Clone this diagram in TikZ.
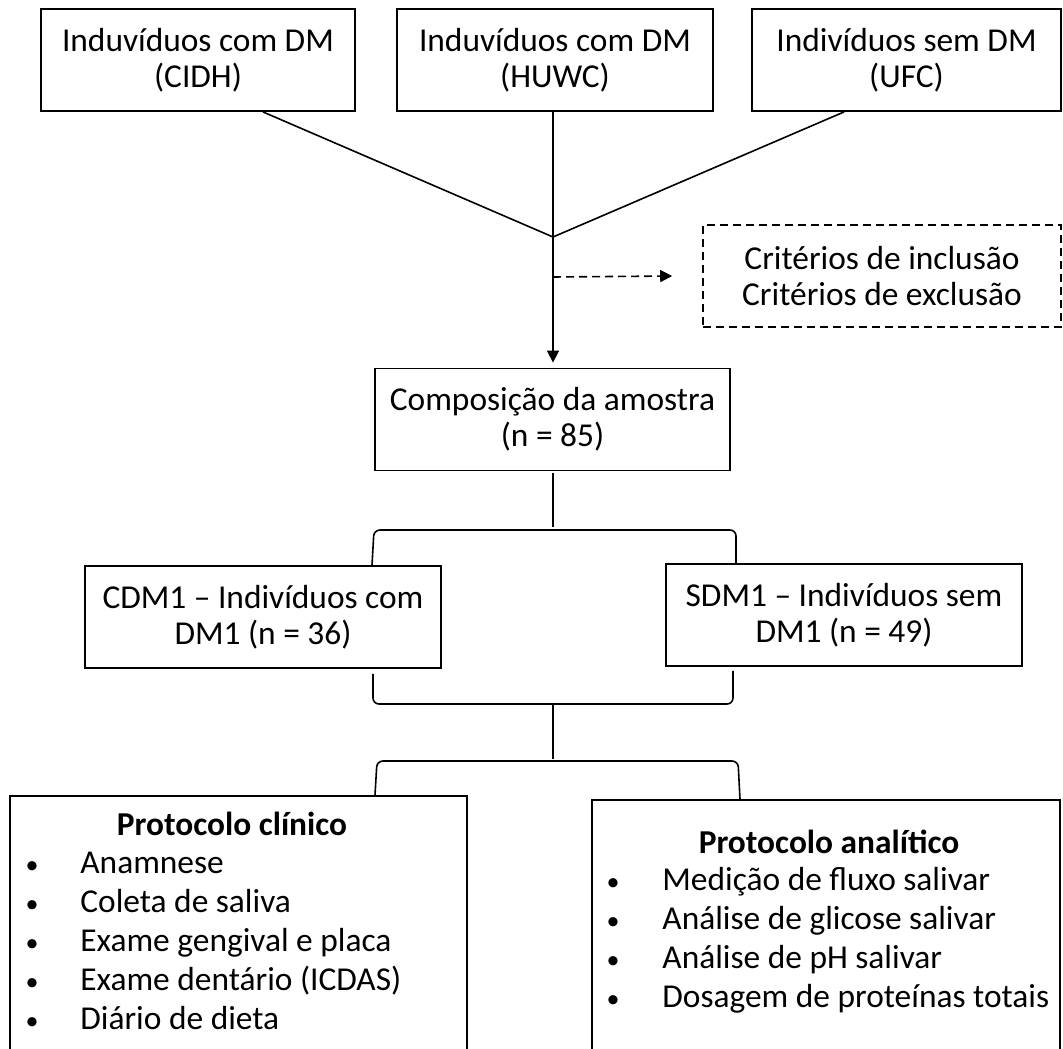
\documentclass[tikz,border=0pt]{standalone}
\usepackage{fontspec}
\setmainfont{Carlito}
\usetikzlibrary{arrows.meta,positioning}

\begin{document}
\begin{tikzpicture}[
    x=0.5pt,y=-0.5pt,
    every node/.style={font=\fontsize{16.7}{18}\selectfont},
    box/.style={draw,line width=0.9pt,inner sep=0pt,align=center,
                minimum height=51pt},
    dbox/.style={box,line width=0.8pt,dash pattern=on 4pt off 2.5pt},
    lin/.style={line width=0.8pt},
    arr/.style={-{Triangle[length=6pt,width=6pt]},line width=0.8pt},
    item/.style={anchor=base west,inner sep=0pt},
    dot/.style={anchor=base,inner sep=0pt},
  ]
    \clip (0,0) rectangle (1063,1048);
    % sources
    \node[box,minimum width=157pt] (cidh) at (198,60)    {Induvíduos com DM\\(CIDH)};
    \node[box,minimum width=158pt] (huwc) at (555,60)    {Induvíduos com DM\\(HUWC)};
    \node[box,minimum width=154.5pt] (ufc) at (906.5,60) {Indivíduos sem DM\\(UFC)};
    \coordinate (v) at (553,237);
    \coordinate (d) at (553,277);
    \node[dbox,minimum width=179pt] (crit) at (882,276) {Critérios de inclusão\\Critérios de exclusão};
    \node[box,minimum width=177.5pt] (amos) at (552.5,419.5) {Composição da amostra\\(n = 85)};
    % groups
    \node[box,minimum width=178pt] (cdm) at (263,617) {CDM1 -- Indivíduos com\\DM1 (n = 36)};
    \node[box,minimum width=178pt] (sdm) at (844,615) {SDM1 -- Indivíduos sem\\DM1 (n = 49)};
    % protocols
    \node[box,minimum width=228.5pt,minimum height=132pt] (clin) at (238.5,928) {};
    \node[box,minimum width=234pt,minimum height=130pt] (anal) at (826,930) {};
    \node[dot,font=\fontsize{16.7}{18}\bfseries] (tclin) at (232,835) {Protocolo clínico};
    \node[dot,font=\fontsize{16.7}{18}\bfseries] (tanal) at (829,853) {Protocolo analítico};
    \foreach \t [count=\i] in {Anamnese,Coleta de saliva,Exame gengival e placa,
                               Exame dentário (ICDAS),Diário de dieta}{
      \node[dot,font=\fontsize{13}{18}\selectfont] (cb\i) at (32,834+39*\i) {\textbullet};
      \node[item] (ci\i) at (80,834+39*\i) {\t};
    }
    \foreach \t [count=\i] in {Medição de fluxo salivar,Análise de glicose salivar,
                               Análise de pH salivar,Dosagem de proteínas totais}{
      \node[dot,font=\fontsize{13}{18}\selectfont] (ab\i) at (613,851+39*\i) {\textbullet};
      \node[item] (ai\i) at (662,851+39*\i) {\t};
    }
    % connectors
    \draw[lin] ([xshift=-46.5pt]cidh.south east) -- (v);
    \draw[lin] ([xshift=46.5pt]ufc.south west) -- (v);
    \draw[arr,shorten >=2.5pt] (huwc.south -| v) -- (amos.north -| v);
    \draw[arr,dash pattern=on 4pt off 2.5pt] (d) -- ([xshift=-15pt]crit.west);
    \coordinate (b1) at (553,530);
    \draw[lin,shorten <=1pt] (amos.south -| b1) -- ([yshift=1.5pt]b1);
    \draw[lin,rounded corners=3pt] (cdm.north -| 372,0) -- (374,530) -- (736,530)
      -- (sdm.north -| 736,0);
    \coordinate (b2) at (553,704);
    \coordinate (b3) at (553,759);
    \draw[lin,rounded corners=3pt,shorten <=2.5pt,shorten >=2pt]
      (cdm.south -| 373,0) -- (373,704) -- (733,704) -- (sdm.south -| 733,0);
    \draw[lin] (b2) -- (b3);
    \draw[lin,rounded corners=3pt] (clin.north -| 375,0) -- (377,761) -- (738,761)
      -- (anal.north -| 740,0);
\end{tikzpicture}
\end{document}
